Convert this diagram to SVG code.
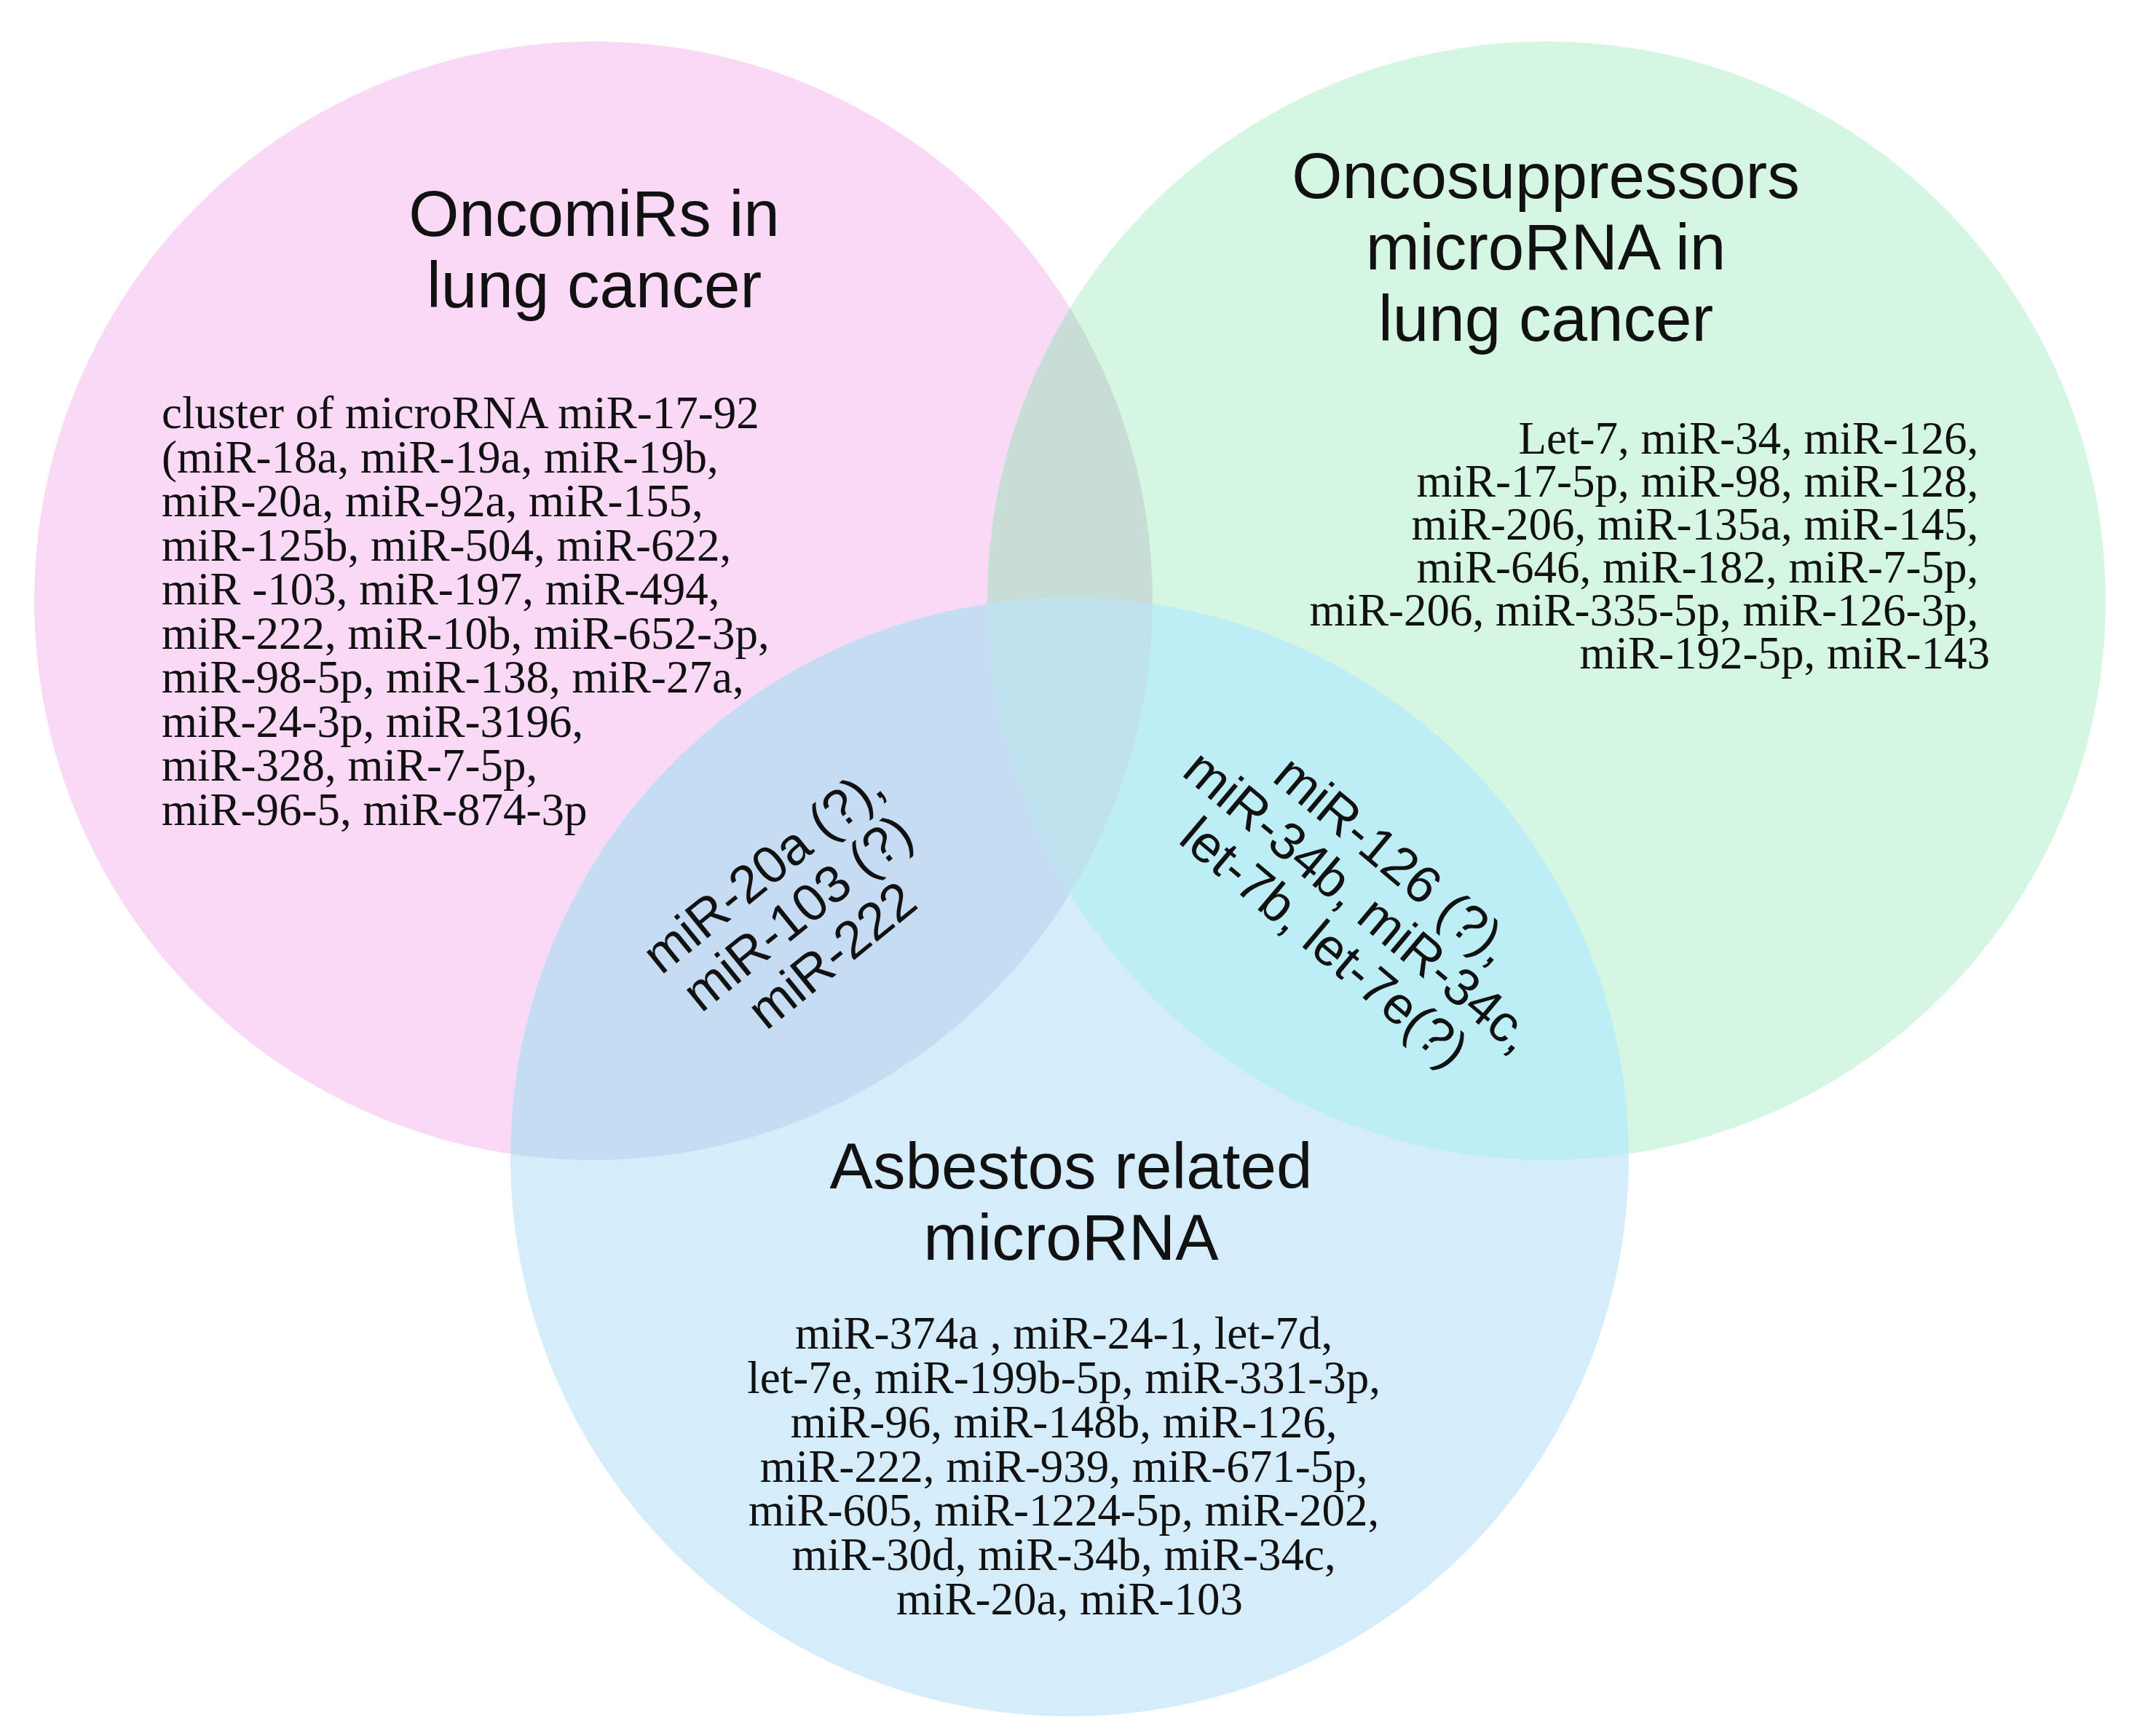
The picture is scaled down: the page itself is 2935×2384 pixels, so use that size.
<svg xmlns="http://www.w3.org/2000/svg" width="2935" height="2384" viewBox="0 0 2935 2384">
<style>
.title{font-family:"Liberation Sans",Arial,sans-serif;font-size:89px;fill:#111;text-anchor:middle}
.body{font-family:"Liberation Serif","Times New Roman",serif;font-size:63px;fill:#111}
.rot{font-family:"Liberation Sans",Arial,sans-serif;font-size:72px;fill:#111;text-anchor:middle}
</style>
<defs>
<clipPath id="cP"><circle cx="815" cy="825" r="768"/></clipPath>
<clipPath id="cG"><circle cx="2124" cy="825" r="768"/></clipPath>
</defs>
<rect width="2935" height="2384" fill="#ffffff"/>
<g id="circles">
<circle cx="815" cy="825" r="768" fill="#f9d9f5"/>
<circle cx="2124" cy="825" r="768" fill="#d5f6e1"/>
<circle cx="1469" cy="1589" r="768" fill="#d5ecfa"/>
<circle cx="2124" cy="825" r="768" fill="#c9ddd7" clip-path="url(#cP)"/>
<circle cx="1469" cy="1589" r="768" fill="#c6dcf3" clip-path="url(#cP)"/>
<circle cx="1469" cy="1589" r="768" fill="#bdeef6" clip-path="url(#cG)"/>
<g clip-path="url(#cP)"><circle cx="1469" cy="1589" r="768" fill="#c0e2ee" clip-path="url(#cG)"/></g>
</g>
<g id="oncomirs">
<text class="title" x="816" y="324">OncomiRs in</text>
<text class="title" x="816" y="422">lung cancer</text>
<text class="body" x="222">
<tspan x="222" y="588">cluster of microRNA miR-17-92</tspan>
<tspan x="222" y="648.5">(miR-18a, miR-19a, miR-19b,</tspan>
<tspan x="222" y="709">miR-20a, miR-92a, miR-155,</tspan>
<tspan x="222" y="769.5">miR-125b, miR-504, miR-622,</tspan>
<tspan x="222" y="830">miR -103, miR-197, miR-494,</tspan>
<tspan x="222" y="890.5">miR-222, miR-10b, miR-652-3p,</tspan>
<tspan x="222" y="951">miR-98-5p, miR-138, miR-27a,</tspan>
<tspan x="222" y="1011.5">miR-24-3p, miR-3196,</tspan>
<tspan x="222" y="1072">miR-328, miR-7-5p,</tspan>
<tspan x="222" y="1132.5">miR-96-5, miR-874-3p</tspan>
</text>
</g>
<g id="oncosuppressors">
<text class="title" x="2123" y="272">Oncosuppressors</text>
<text class="title" x="2123" y="370">microRNA in</text>
<text class="title" x="2123" y="468">lung cancer</text>
<text class="body" text-anchor="end">
<tspan x="2733" y="623">Let-7, miR-34, miR-126,</tspan>
<tspan x="2733" y="682">miR-17-5p, miR-98, miR-128,</tspan>
<tspan x="2733" y="741">miR-206, miR-135a, miR-145,</tspan>
<tspan x="2733" y="800">miR-646, miR-182, miR-7-5p,</tspan>
<tspan x="2733" y="859">miR-206, miR-335-5p, miR-126-3p,</tspan>
<tspan x="2733" y="918">miR-192-5p, miR-143</tspan>
</text>
</g>
<g id="asbestos">
<text class="title" x="1471" y="1632">Asbestos related</text>
<text class="title" x="1471" y="1730">microRNA</text>
<text class="body" text-anchor="middle">
<tspan x="1469" y="1852">miR-374a , miR-24-1, let-7d,</tspan>
<tspan x="1469" y="1913">let-7e, miR-199b-5p, miR-331-3p,</tspan>
<tspan x="1469" y="1974">miR-96, miR-148b, miR-126,</tspan>
<tspan x="1469" y="2035">miR-222, miR-939, miR-671-5p,</tspan>
<tspan x="1469" y="2095">miR-605, miR-1224-5p, miR-202,</tspan>
<tspan x="1469" y="2156">miR-30d, miR-34b, miR-34c,</tspan>
<tspan x="1469" y="2217">miR-20a, miR-103</tspan>
</text>
</g>
<g id="oncomirs-asbestos" transform="translate(1095,1253) rotate(-39)">
<text class="rot" x="0" y="-50">miR-20a (?),</text>
<text class="rot" x="0" y="25">miR-103 (?)</text>
<text class="rot" x="0" y="100">miR-222</text>
</g>
<g id="oncosuppressors-asbestos" transform="translate(1867,1237) rotate(40)">
<text class="rot" x="0" y="-49">miR-126 (?),</text>
<text class="rot" x="0" y="25">miR-34b, miR-34c,</text>
<text class="rot" x="0" y="99">let-7b, let-7e(?)</text>
</g>
</svg>
